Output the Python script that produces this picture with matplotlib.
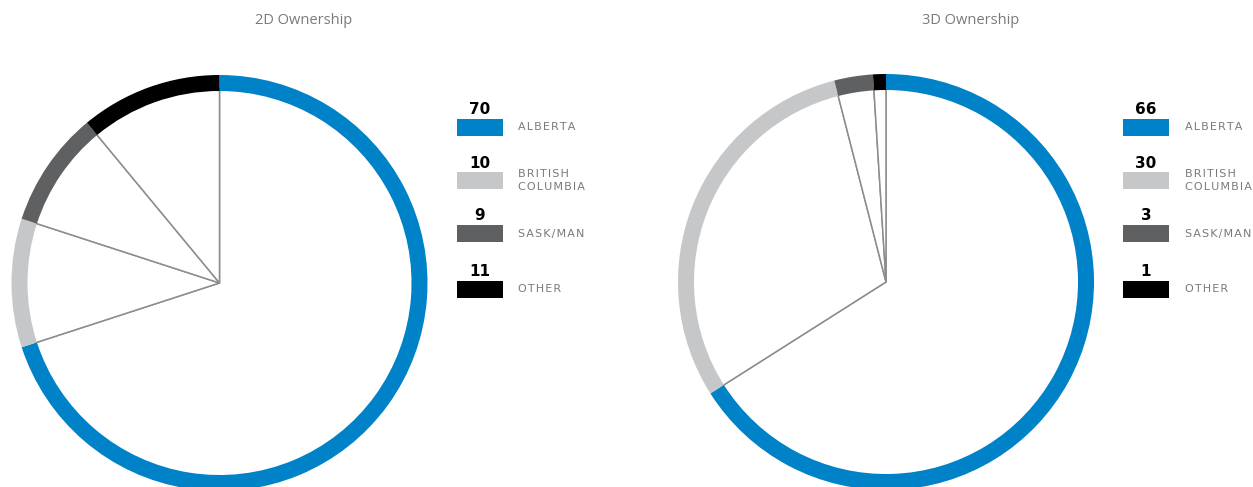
import matplotlib
matplotlib.use("Agg")
import matplotlib.pyplot as plt

categories = ["ALBERTA", "BRITISH\nCOLUMBIA", "SASK/MAN", "OTHER"]
values_2d = [70, 10, 9, 11]
values_3d = [66, 30, 3, 1]
titles = ["2D Ownership", "3D Ownership"]

colors = ["#0082C8", "#C6C7C8", "#5F6062", "#000000"]
line_color = "#8C8C8C"
text_gray = "#7A7A7A"

W, H = 1253, 487
fig = plt.figure(figsize=(W / 100, H / 100), dpi=100)
plt.rcParams['font.family'] = ['Open Sans', 'DejaVu Sans']

R_PX = 208.0
RING_PX = 16.0
HALF = 235.0

def px_axes(cx, cy, half):
    left = (cx - half) / W
    bottom = (H - (cy + half)) / H
    return fig.add_axes([left, bottom, 2 * half / W, 2 * half / H])

def draw_pie(cx, cy, values):
    ax = px_axes(cx, cy, HALF)
    ax.set_aspect('equal')
    ax.axis('off')
    inner = 1 - RING_PX / R_PX
    ax.pie(values, radius=inner + 0.01, startangle=90, counterclock=False,
           colors=['white'] * len(values),
           wedgeprops=dict(edgecolor=line_color, linewidth=1.1))
    ring, _ = ax.pie(values, radius=1.0, startangle=90, counterclock=False,
                     colors=colors, wedgeprops=dict(width=RING_PX / R_PX, edgecolor='none'))
    for w in ring:
        w.set_zorder(5)
    ax.set_xlim(-HALF / R_PX, HALF / R_PX)
    ax.set_ylim(-HALF / R_PX, HALF / R_PX)
    return ax

def fx(x):
    return x / W

def fy(y):
    return 1 - y / H

def spaced(s):
    return "\n".join("\u200a".join(line) for line in s.split("\n"))

def draw_legend(x_sw, x_lab, values):
    sw_w, sw_h = 46, 17
    sw_tops = [119, 172, 225, 281]
    for i, (lab, v) in enumerate(zip(categories, values)):
        top = sw_tops[i]
        fig.patches.append(plt.Rectangle((fx(x_sw), fy(top + sw_h)), sw_w / W, sw_h / H,
                                         transform=fig.transFigure, facecolor=colors[i],
                                         edgecolor='none'))
        fig.text(fx(x_sw + sw_w / 2), fy(top - 1.5), str(v), ha='center', va='bottom',
                 fontsize=11, fontweight='bold', color='black', family='DejaVu Sans')
        fig.text(fx(x_lab), fy(top + sw_h / 2), spaced(lab), ha='left', va='center',
                 fontsize=8, color=text_gray, linespacing=1.3, family='DejaVu Sans')

draw_pie(219.5, 283, values_2d)
draw_pie(886, 282, values_3d)
draw_legend(457, 518, values_2d)
draw_legend(1123, 1185, values_3d)

fig.text(fx(304), fy(20), titles[0], ha='center', va='center', fontsize=10.5, color=text_gray)
fig.text(fx(971), fy(20), titles[1], ha='center', va='center', fontsize=10.5, color=text_gray)

fig.savefig("out.png", dpi=100, facecolor='white')
